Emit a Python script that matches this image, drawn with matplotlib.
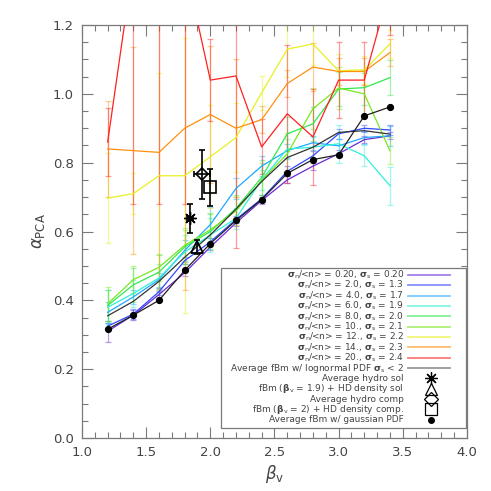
import numpy as np
import matplotlib
matplotlib.use("Agg")
import matplotlib.pyplot as plt
from matplotlib.patches import Rectangle
from matplotlib.ticker import MultipleLocator, FormatStrFormatter

# ---------------- data ----------------
beta_v = [1.2, 1.4, 1.6, 1.8, 2.0, 2.2, 2.4, 2.6, 2.8, 3.0, 3.2, 3.4]

sigma_n = ["0.20", "2.0", "4.0", "6.0", "8.0", "10.", "12.", "14.", "20."]
sigma_s = ["0.20", "1.3", "1.7", "1.9", "2.0", "2.1", "2.2", "2.3", "2.4"]

alpha_s020 = [0.31, 0.357, 0.417, 0.48, 0.555, 0.625, 0.69, 0.75, 0.79, 0.826, 0.867, 0.878]
alpha_s13 = [0.325, 0.36, 0.425, 0.515, 0.57, 0.635, 0.695, 0.775, 0.82, 0.884, 0.90, 0.895]
alpha_s17 = [0.365, 0.41, 0.46, 0.545, 0.62, 0.725, 0.79, 0.835, 0.858, 0.849, 0.873, 0.878]
alpha_s19 = [0.38, 0.42, 0.465, 0.54, 0.59, 0.638, 0.75, 0.84, 0.845, 0.855, 0.82, 0.733]
alpha_s20 = [0.385, 0.445, 0.482, 0.555, 0.60, 0.667, 0.757, 0.884, 0.913, 1.014, 1.018, 1.047]
alpha_s21 = [0.39, 0.46, 0.496, 0.56, 0.605, 0.66, 0.748, 0.826, 0.957, 1.017, 1.0, 0.835]
alpha_s22 = [0.697, 0.71, 0.762, 0.762, 0.817, 0.873, 1.003, 1.13, 1.145, 1.067, 1.07, 1.145]
alpha_s23 = [0.84, 0.835, 0.83, 0.90, 0.94, 0.90, 0.925, 1.03, 1.078, 1.065, 1.065, 1.12]
alpha_s24 = [0.86, 1.38, 1.45, 1.38, 1.04, 1.052, 0.846, 0.942, 0.875, 1.04, 1.04, 1.31]

err_s020 = [0.03, 0.015, 0.01, 0.01, 0.01, 0.01, 0.01, 0.01, 0.01, 0.01, 0.01, 0.01]
err_s13 = [0.01, 0.015, 0.01, 0.01, 0.01, 0.01, 0.01, 0.015, 0.015, 0.015, 0.01, 0.015]
err_s17 = [0.03, 0.02, 0.02, 0.03, 0.05, 0.03, 0.03, 0.02, 0.02, 0.02, 0.02, 0.03]
err_s19 = [0.05, 0.04, 0.04, 0.05, 0.05, 0.03, 0.03, 0.03, 0.03, 0.055, 0.03, 0.055]
err_s20 = [0.045, 0.05, 0.05, 0.05, 0.05, 0.04, 0.05, 0.05, 0.05, 0.05, 0.05, 0.05]
err_s21 = [0.05, 0.04, 0.04, 0.05, 0.05, 0.04, 0.05, 0.06, 0.06, 0.06, 0.06, 0.04]
err_s22 = [0.13, 0.06, 0.3, 0.4, 0.15, 0.1, 0.05, 0.08, 0.06, 0.05, 0.04, 0.04]
err_s23 = [0.14, 0.3, 0.4, 0.47, 0.2, 0.2, 0.04, 0.04, 0.07, 0.04, 0.04, 0.04]
err_s24 = [0.1, 0.7, 0.77, 0.7, 0.12, 0.5, 0.08, 0.2, 0.14, 0.11, 0.11, 0.14]

alpha_lognormal_avg = [0.355, 0.397, 0.455, 0.525, 0.59, 0.665, 0.745, 0.815, 0.845, 0.888, 0.893, 0.883]
alpha_gaussian = [0.316, 0.357, 0.40, 0.487, 0.565, 0.632, 0.693, 0.769, 0.809, 0.823, 0.936, 0.962]

# single points: (beta, alpha, xerr, yerr)
hydro_sol = (1.842, 0.638, 0.02, 0.043)
fbm_hd_sol = (1.90, 0.555, 0.0, 0.02)
hydro_comp = (1.935, 0.766, 0.065, 0.072)
fbm_hd_comp = (2.0, 0.728, 0.0, 0.055)

colors = ["#6a2bd6", "#3048ff", "#1ea8ff", "#30f0d8", "#30e850",
          "#78e820", "#e8f020", "#ff9010", "#ff2020"]

series = [alpha_s020, alpha_s13, alpha_s17, alpha_s19, alpha_s20,
          alpha_s21, alpha_s22, alpha_s23, alpha_s24]
errors = [err_s020, err_s13, err_s17, err_s19, err_s20,
          err_s21, err_s22, err_s23, err_s24]

# ---------------- figure ----------------
fig = plt.figure(figsize=(4.91, 4.91), dpi=100)
ax = fig.add_axes([0.167, 0.108, 0.784, 0.841])

gray = "#7a7a7a"
txt = "#444444"

for y, e, c in zip(series, errors, colors):
    ax.errorbar(beta_v, y, yerr=e, fmt="none", ecolor=c, alpha=0.45,
                elinewidth=0.9, capsize=2.5, capthick=0.9, zorder=2)
    ax.plot(beta_v, y, color=c, lw=0.9, zorder=3)

ax.plot(beta_v, alpha_lognormal_avg, color="#333333", lw=0.9, zorder=4)
ax.plot(beta_v, alpha_gaussian, color="#222222", lw=0.9, marker="o",
        ms=4.2, mfc="black", mec="black", zorder=5)

# individual points
ebkw = dict(fmt="none", ecolor="black", elinewidth=1.2, capsize=2.5, capthick=1.2, zorder=6)
ax.errorbar(hydro_sol[0], hydro_sol[1], xerr=hydro_sol[2], yerr=hydro_sol[3], **ebkw)
ax.plot(hydro_sol[0], hydro_sol[1], marker=(8, 2, 0), ms=9, mec="black", mew=1.0,
        color="black", ls="none", zorder=7)
ax.errorbar(fbm_hd_sol[0], fbm_hd_sol[1], yerr=fbm_hd_sol[3], **ebkw)
ax.plot(fbm_hd_sol[0], fbm_hd_sol[1], marker="^", ms=8, mfc="none", mec="black", mew=1.3,
        ls="none", zorder=7)
ax.errorbar(hydro_comp[0], hydro_comp[1], xerr=hydro_comp[2], yerr=hydro_comp[3], **ebkw)
ax.plot(hydro_comp[0], hydro_comp[1], marker="D", ms=6, mfc="none", mec="black", mew=1.2,
        ls="none", zorder=7)
ax.errorbar(fbm_hd_comp[0], fbm_hd_comp[1], yerr=fbm_hd_comp[3], **ebkw)
ax.plot(fbm_hd_comp[0], fbm_hd_comp[1], marker="s", ms=9, mfc="none", mec="black", mew=1.2,
        ls="none", zorder=7)

ax.set_xlim(1.0, 4.0)
ax.set_ylim(0.0, 1.2)
ax.xaxis.set_major_locator(MultipleLocator(0.5))
ax.xaxis.set_minor_locator(MultipleLocator(0.1))
ax.yaxis.set_major_locator(MultipleLocator(0.2))
ax.yaxis.set_minor_locator(MultipleLocator(0.05))
ax.xaxis.set_major_formatter(FormatStrFormatter("%.1f"))
ax.yaxis.set_major_formatter(FormatStrFormatter("%.1f"))
ax.tick_params(which="both", direction="in", top=True, right=True, color=gray,
               labelcolor=txt, labelsize=9.5, pad=6)
ax.tick_params(which="major", length=8, width=0.8)
ax.tick_params(which="minor", length=4, width=0.8)
for s in ax.spines.values():
    s.set_color(gray)
    s.set_linewidth(0.9)

ax.set_xlabel(r"$\beta_{\rm v}$", fontsize=12, color=txt, labelpad=3)
ax.set_ylabel(r"$\alpha_{\rm PCA}$", fontsize=12, color=txt, labelpad=4)

# ---------------- legend (drawn in axes coordinates) ----------------
labels = []
for sn, ss in zip(sigma_n, sigma_s):
    labels.append(r"$\mathbf{\sigma}_{\rm n}$/<n> = " + sn + r", $\mathbf{\sigma}_{\rm s}$ = " + ss)
labels += [r"Average fBm w/ lognormal PDF $\mathbf{\sigma}_{\rm s}$ < 2",
           "Average hydro sol",
           r"fBm ($\mathbf{\beta}_{\rm v}$ = 1.9) + HD density sol",
           "Average hydro comp",
           r"fBm ($\mathbf{\beta}_{\rm v}$ = 2) + HD density comp.",
           "Average fBm w/ gaussian PDF"]
line_colors = colors + ["#555555"]
markers = [dict(marker=(8, 2, 0), ms=9, color="black", mew=0.9),
           dict(marker="^", ms=9, mfc="none", mec="black", mew=0.9),
           dict(marker="D", ms=7, mfc="none", mec="black", mew=0.9),
           dict(marker="s", ms=9, mfc="none", mec="black", mew=0.9),
           dict(marker="o", ms=4, color="black")]

T = ax.transAxes
ax.add_patch(Rectangle((0.361, 0.024), 0.636, 0.388, transform=T, facecolor="white",
                       edgecolor=gray, lw=0.9, zorder=10))
y_top, dy = 0.395, 0.02508
for i, lab in enumerate(labels):
    yy = y_top - i * dy
    ax.text(0.836, yy, lab, transform=T, ha="right", va="center", fontsize=6.5,
            color=txt, zorder=11)
    if i < len(line_colors):
        ax.plot([0.846, 0.956], [yy, yy], transform=T, color=line_colors[i],
                lw=1.3, alpha=0.6, zorder=11, clip_on=False)
    else:
        ax.plot([0.906], [yy], transform=T, ls="none", zorder=11, clip_on=False,
                **markers[i - len(line_colors)])

fig.savefig("out.png", dpi=100)
